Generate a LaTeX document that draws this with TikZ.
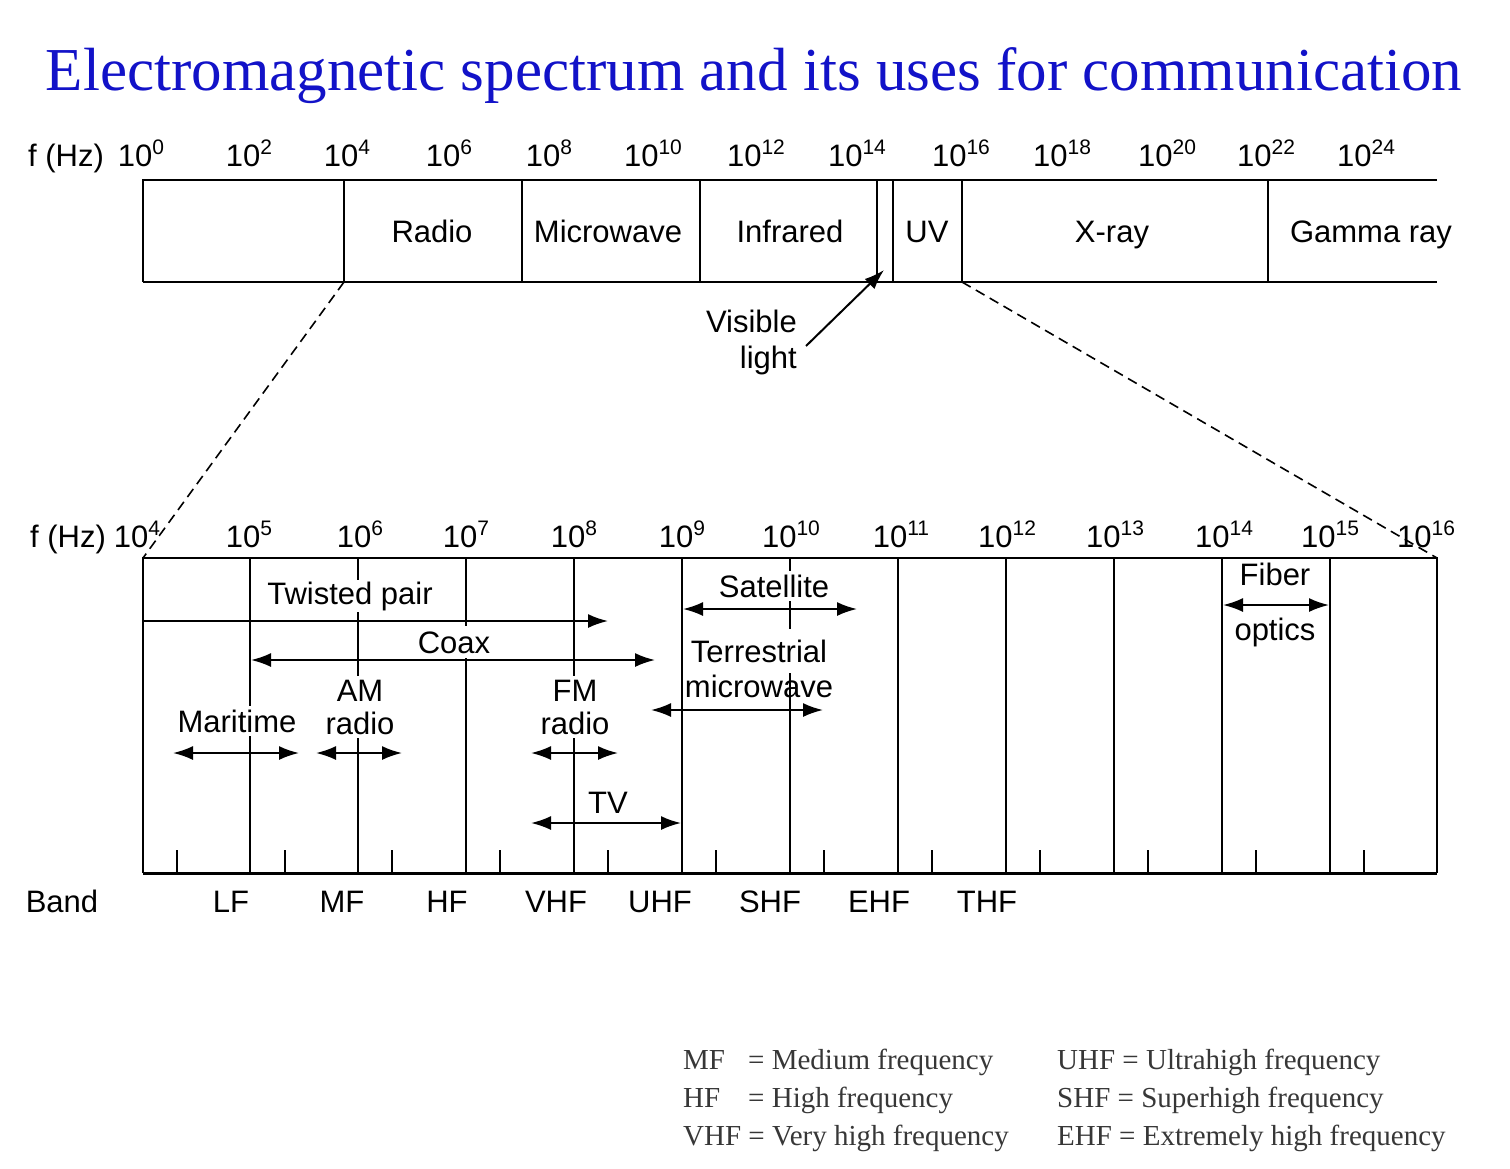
\documentclass[tikz,border=0pt]{standalone}
\usepackage{fontspec}
\setmainfont{Liberation Sans}
\newfontfamily\titlefont{Liberation Serif}
\usetikzlibrary{arrows.meta}
\newcommand\expo[1]{\raisebox{0.36em}{\fontsize{21}{21}\selectfont #1}}
\definecolor{titleblue}{RGB}{18,18,200}
\definecolor{legendgray}{RGB}{55,55,55}
\begin{document}
\begin{tikzpicture}[x=1pt,y=-1pt,
  font=\fontsize{31}{33}\selectfont,
  lbl/.style={anchor=base, inner sep=0pt},
  wlbl/.style={anchor=base, fill=white, inner sep=1.5pt},
  leg/.style={anchor=base west, inner sep=0pt, text=legendgray, font=\titlefont\fontsize{29}{34}\selectfont},
  thinline/.style={line width=1.4pt},
  boxline/.style={line width=2pt},
  tip/.tip={Latex[length=20pt,width=14pt]},
  dbl/.style={line width=2pt, tip-tip},
  sgl/.style={line width=2pt, -tip},
  dashline/.style={line width=1.6pt, dash pattern=on 10pt off 6pt}]
\useasboundingbox (0,0) rectangle (1510,1168);

% title
\node[lbl, text=titleblue, font=\titlefont\fontsize{61}{70}\selectfont] (title) at (754,90) {Electromagnetic spectrum and its uses for communication};

% ---------- upper spectrum ----------
\coordinate (uTL) at (143,180); \coordinate (uBL) at (143,282);
\coordinate (uTR) at (1437,180); \coordinate (uBR) at (1437,282);
\draw[boxline] (uTR) -- (uTL) -- (uBL);
\draw[line width=2.4pt] (uBL) -- (uBR);
\foreach \x in {344,522,700,877,893,962,1268}
  \draw[thinline] (\x,180) -- (\x,282);

\node[lbl] (fhz1) at (66,166) {f (Hz)};
\foreach \n/\x/\e in {a/141/0, b/249/2, c/347/4, d/449/6, e/549/8, f/653/10, g/756/12, h/857/14, i/961/16, j/1062/18, k/1167/20, l/1266/22, m/1366/24}
  \node[lbl] (top\n) at (\x,166) {10\expo{\e}};

\node[lbl] (radio) at (432,242) {Radio};
\node[lbl] (microwave) at (608,242) {Microwave};
\node[lbl] (infrared) at (790,242) {Infrared};
\node[lbl] (uv) at (927,242) {UV};
\node[lbl] (xray) at (1112,242) {X-ray};
\node[lbl] (gamma) at (1371,242) {Gamma ray};

% visible light
\node[anchor=base east, inner sep=0pt] (visible) at (797,332) {Visible};
\node[anchor=base east, inner sep=0pt] (light) at (797,368) {light};
\coordinate (visA) at (806,346);
\coordinate (visB) at (884,270);
\draw[sgl] (visA) -- (visB);

% zoom dashed lines
\coordinate (zL1) at (344,282); \coordinate (zL2) at (143,558);
\coordinate (zR1) at (962,282); \coordinate (zR2) at (1437,558);
\draw[dashline] (zL1) -- (zL2);
\draw[dashline] (zR1) -- (zR2);

% ---------- lower spectrum ----------
\coordinate (lTL) at (143,558); \coordinate (lBL) at (143,873);
\coordinate (lTR) at (1437,558); \coordinate (lBR) at (1437,873);
\draw[boxline] (lBL) -- (lTL) -- (lTR) -- (lBR);
\foreach \x in {250,358,466,574,790,898,1006,1114,1222,1330}
  \draw[thinline] (\x,558) -- (\x,873);
\foreach \x in {177,285,392,500,608,716,824,932,1040,1148,1256,1364}
  \draw[thinline] (\x,850) -- (\x,873);
\draw[line width=3pt] (lBL) -- (lBR);

\node[lbl] (fhz2) at (68,547) {f (Hz)};
\foreach \n/\x/\e in {a/137/4, b/249/5, c/360/6, d/466/7, e/574/8, f/682/9, g/791/10, h/901/11, i/1007/12, j/1115/13, k/1224/14, l/1330/15, m/1426/16}
  \node[lbl] (low\n) at (\x,547) {10\expo{\e}};

\node[lbl] (band) at (62,912) {Band};
\foreach \n/\x in {LF/231, MF/342, HF/447, VHF/556, UHF/660, SHF/770, EHF/879, THF/987}
  \node[lbl] (b\n) at (\x,912) {\n};

% usage labels (white background breaks the grid lines)
\node[wlbl] (twisted) at (350,604) {Twisted pair};
\node[wlbl, inner ysep=5pt] (coax) at (454,653) {Coax};
\node[wlbl, inner ysep=4pt] (satellite) at (774,597) {Satellite};
\node[wlbl, inner ysep=11pt] (terr) at (759,662) {Terrestrial};
\node[lbl] (mwave) at (759,697) {microwave};
\node[lbl] (fiber) at (1275,585) {Fiber};
\node[lbl] (optics) at (1275,640) {optics};
\node[wlbl, inner ysep=4pt] (maritime) at (237,732) {Maritime};
\node[fill=white, inner xsep=1.5pt, inner ysep=4pt, align=center, anchor=base] (am) at (360,734) {AM\\radio};
\node[fill=white, inner xsep=1.5pt, inner ysep=4pt, align=center, anchor=base] (fm) at (575,734) {FM\\radio};
\node[lbl] (tv) at (608,813) {TV};

% 10^9 line drawn over the labels
\draw[thinline] (682,558) -- (682,873);

% usage arrows
\coordinate (tpA) at (143,621); \coordinate (tpB) at (608,621);
\draw[sgl] (tpA) -- (tpB);
\coordinate (cxA) at (251,660); \coordinate (cxB) at (655,660);
\draw[dbl] (cxA) -- (cxB);
\coordinate (stA) at (683,609); \coordinate (stB) at (857,609);
\draw[dbl] (stA) -- (stB);
\coordinate (tmA) at (651,710); \coordinate (tmB) at (823,710);
\draw[dbl] (tmA) -- (tmB);
\coordinate (foA) at (1223,605); \coordinate (foB) at (1329,605);
\draw[dbl] (foA) -- (foB);
\coordinate (mrA) at (173,753); \coordinate (mrB) at (299,753);
\draw[dbl] (mrA) -- (mrB);
\coordinate (amA) at (316,753); \coordinate (amB) at (402,753);
\draw[dbl] (amA) -- (amB);
\coordinate (fmA) at (531,753); \coordinate (fmB) at (618,753);
\draw[dbl] (fmA) -- (fmB);
\coordinate (tvA) at (531,823); \coordinate (tvB) at (681,823);
\draw[dbl] (tvA) -- (tvB);

% legend
\node[leg] (lgMF) at (683,1069) {MF};
\node[leg] (lgMFd) at (748,1069) {= Medium frequency};
\node[leg] (lgHF) at (683,1107) {HF};
\node[leg] (lgHFd) at (748,1107) {= High frequency};
\node[leg] (lgVHF) at (683,1145) {VHF = Very high frequency};
\node[leg] (lgUHF) at (1057,1069) {UHF = Ultrahigh frequency};
\node[leg] (lgSHF) at (1057,1107) {SHF = Superhigh frequency};
\node[leg] (lgEHF) at (1057,1145) {EHF = Extremely high frequency};
\end{tikzpicture}
\end{document}
